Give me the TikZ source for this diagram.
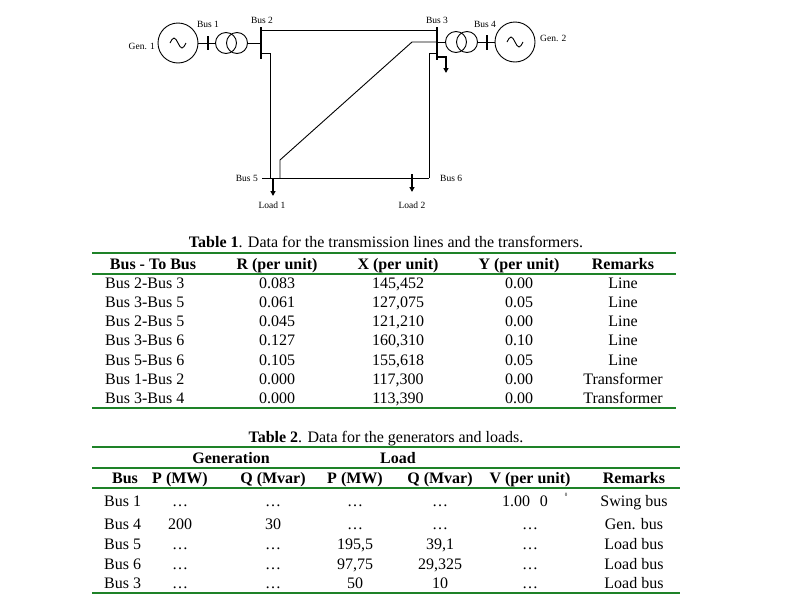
\documentclass[tikz,border=0pt]{standalone}
\usepackage{fontspec}
\setmainfont{Liberation Serif}
\usetikzlibrary{arrows.meta}
\definecolor{tgreen}{RGB}{30,130,40}
\begin{document}
\begin{tikzpicture}[x=1pt,y=-1pt,
  wire/.style={line width=0.9pt},
  busbar/.style={line width=1.4pt},
  loadarr/.style={line width=1.4pt,-{Triangle[length=5pt,width=5pt]}},
  dlab/.style={font=\fontsize{9.5}{10}\selectfont,inner sep=0pt},
  tx/.style={font=\fontsize{16}{18}\selectfont,inner sep=0pt,anchor=base},
  th/.style={font=\fontsize{16}{18}\selectfont\bfseries,inner sep=0pt,anchor=base},
  tl/.style={tgreen,line width=1.3pt},
  tlb/.style={tgreen,line width=2.6pt}]
\useasboundingbox (0,0) rectangle (796,600);
% ---------- diagram ----------
\node[draw,circle,wire,minimum size=40pt,inner sep=0pt] (g1) at (178,43) {};
\draw[wire] (170,43) sin (174,38) cos (178,43) sin (182,48) cos (186,43);
\node[dlab,anchor=east] (g1l) at (155,46) {Gen. 1};
\node[draw,circle,wire,minimum size=21pt,inner sep=0pt] (t1a) at (226,43) {};
\node[draw,circle,wire,minimum size=21pt,inner sep=0pt] (t1b) at (237,43) {};
\coordinate (b1t) at (208,36); \coordinate (b1b) at (208,50);
\draw[busbar] (b1t) -- (b1b);
\draw[wire] (g1.east) -- (t1a.west);
\node[dlab] (b1l) at (208,24) {Bus 1};
\coordinate (b2t) at (261,27); \coordinate (b2b) at (261,59);
\draw[busbar] (b2t) -- (b2b);
\node[dlab] (b2l) at (262,20) {Bus 2};
\draw[wire] (t1b.east) -- (261,43);
\coordinate (b3t) at (437,27); \coordinate (b3b) at (437,60);
\draw[busbar] (b3t) -- (b3b);
\node[dlab] (b3l) at (437,20) {Bus 3};
\draw[wire] (261,30) -- (437,30);
\draw[wire] (437,42) -- (412,42) -- (280,160) -- (280,178);
\draw[wire] (261,53) -- (270,53) -- (270,178);
\draw[wire] (437,53) -- (429,53) -- (429,178);
\draw[wire] (262,178) -- (429,178);
\node[dlab,anchor=east] (b5l) at (258,178) {Bus 5};
\node[dlab,anchor=west] (b6l) at (440,178) {Bus 6};
\draw[loadarr] (273,178) -- (273,196);
\node[dlab] (ld1) at (272,205) {Load 1};
\draw[loadarr] (412,174) -- (412,192);
\node[dlab] (ld2) at (412,205) {Load 2};
\draw[loadarr] (437,57) -- (446,57) -- (446,73);
\node[draw,circle,wire,minimum size=21pt,inner sep=0pt] (t2a) at (456,42) {};
\node[draw,circle,wire,minimum size=21pt,inner sep=0pt] (t2b) at (467,42) {};
\draw[wire] (437,42) -- (t2a.west);
\node[draw,circle,wire,minimum size=40pt,inner sep=0pt] (g2) at (515,42) {};
\draw[wire] (507,42) sin (511,37) cos (515,42) sin (519,47) cos (523,42);
\draw[wire] (t2b.east) -- (g2.west);
\draw[busbar] (487,35) -- (487,50);
\node[dlab] (b4l) at (485,24) {Bus 4};
\node[dlab,anchor=west] (g2l) at (540,38) {Gen. 2};
% ---------- Table 1 ----------
\node[tx] (c1) at (386,247) {\textbf{Table 1}. Data for the transmission lines and the transformers.};
\draw[tl] (92,253) -- (676,253);
\draw[tl] (92,274) -- (676,274);
\draw[tl] (92,408) -- (676,408);
\node[th] (h1) at (153,269) {Bus - To Bus};
\node[th] (h2) at (277,269) {R (per unit)};
\node[th] (h3) at (398,269) {X (per unit)};
\node[th] (h4) at (519,269) {Y (per unit)};
\node[th] (h5) at (623,269) {Remarks};
\foreach \a/\r/\x/\yy/\m [count=\i] in {
  Bus 2-Bus 3/0.083/{145,452}/0.00/Line,
  Bus 3-Bus 5/0.061/{127,075}/0.05/Line,
  Bus 2-Bus 5/0.045/{121,210}/0.00/Line,
  Bus 3-Bus 6/0.127/{160,310}/0.10/Line,
  Bus 5-Bus 6/0.105/{155,618}/0.05/Line,
  Bus 1-Bus 2/0.000/{117,300}/0.00/Transformer,
  Bus 3-Bus 4/0.000/{113,390}/0.00/Transformer}{
  \pgfmathsetmacro\yb{269+19.2*\i}
  \node[tx,anchor=base west] (ra\i) at (105,\yb) {\a};
  \node[tx] (rb\i) at (277,\yb) {\r};
  \node[tx] (rc\i) at (398,\yb) {\x};
  \node[tx] (rd\i) at (519,\yb) {\yy};
  \node[tx] (re\i) at (623,\yb) {\m};
}
% ---------- Table 2 ----------
\node[tx] (c2) at (386,442) {\textbf{Table 2}. Data for the generators and loads.};
\draw[tl] (92,447) -- (680,447);
\draw[tl] (92,468) -- (680,468);
\draw[tl] (92,488) -- (680,488);
\draw[tlb] (92,593) -- (680,593);
\node[th] (gen) at (231,463) {Generation};
\node[th] (lod) at (398,463) {Load};
\node[th] (k1) at (125,483) {Bus};
\node[th] (k2) at (180,483) {P (MW)};
\node[th] (k3) at (273,483) {Q (Mvar)};
\node[th] (k4) at (355,483) {P (MW)};
\node[th] (k5) at (440,483) {Q (Mvar)};
\node[th] (k6) at (530,483) {V (per unit)};
\node[th] (k7) at (634,483) {Remarks};
\foreach \a/\b/\c/\d/\e/\f/\g/\yb in {
  Bus 1/\dots/\dots/\dots/\dots/{}/Swing bus/506,
  Bus 4/200/30/\dots/\dots/\dots/Gen. bus/529,
  Bus 5/\dots/\dots/{195,5}/{39,1}/\dots/Load bus/549,
  Bus 6/\dots/\dots/{97,75}/{29,325}/\dots/Load bus/569,
  Bus 3/\dots/\dots/50/10/\dots/Load bus/588}{
  \node[tx,anchor=base west] at (104,\yb) {\a};
  \node[tx] at (180,\yb) {\b};
  \node[tx] at (273,\yb) {\c};
  \node[tx] at (355,\yb) {\d};
  \node[tx] at (440,\yb) {\e};
  \node[tx] at (530,\yb) {\f};
  \node[tx] at (634,\yb) {\g};
}
\node[tx] (v1) at (525,506) {1.00\hspace{0.6em}0};
\node[inner sep=0pt,font=\fontsize{5}{5}\selectfont] (deg) at (566,495) {0};
\end{tikzpicture}
\end{document}
